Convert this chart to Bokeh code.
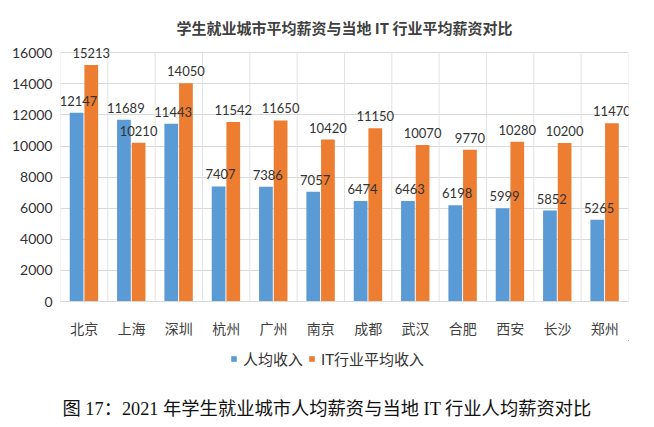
from bokeh.plotting import figure
from bokeh.models import (ColumnDataSource, FixedTicker, Legend, LegendItem,
                          LabelSet, Label, Range1d)
from bokeh.layouts import column
from bokeh.transform import dodge
from bokeh.core.properties import value
from bokeh.embed import file_html
from bokeh.resources import INLINE

cities = ["北京", "上海", "深圳", "杭州", "广州", "南京", "成都", "武汉", "合肥", "西安", "长沙", "郑州"]
avg_income = [12147, 11689, 11443, 7407, 7386, 7057, 6474, 6463, 6198, 5999, 5852, 5265]
it_income = [15213, 10210, 14050, 11542, 11650, 10420, 11150, 10070, 9770, 10280, 10200, 11470]
y_ticks = [0, 2000, 4000, 6000, 8000, 10000, 12000, 14000, 16000]
title_text = "学生就业城市平均薪资与当地 IT 行业平均薪资对比"
caption_text = "图 17：2021 年学生就业城市人均薪资与当地 IT 行业人均薪资对比"
series_names = ["人均收入", "IT行业平均收入"]

BLUE = "#5B9BD5"
ORANGE = "#ED7D31"
LAT = "Lato, Noto Sans CJK SC"
CJK = "Noto Sans CJK SC"

pos = [i + 0.5 for i in range(len(cities))]
bounds = list(range(len(cities) + 1))
src = ColumnDataSource(dict(x=pos, a=avg_income, b=it_income,
                            a_txt=[str(v) for v in avg_income],
                            b_txt=[str(v) for v in it_income]))

W = 654
H1, H2 = 340, 87
FL, FR, FT, FB = 60, 628, 43, 309

p = figure(width=W, height=H1, output_backend="svg", toolbar_location=None,
           x_range=Range1d(0, len(cities)), y_range=Range1d(0, 16600),
           min_border_left=FL, min_border_right=W - FR, min_border_top=FT,
           min_border_bottom=H1 - FB)
p.outline_line_color = None
p.background_fill_color = "white"
p.border_fill_color = "white"

# title
p.title.text = title_text
p.title.align = "center"
p.title.text_font = CJK
p.title.text_font_size = "15px"
p.title.text_font_style = "bold"
p.title.text_color = "#404040"
p.title.standoff = 12

# grids
p.xgrid.visible = False
p.ygrid.ticker = FixedTicker(ticks=y_ticks)
p.ygrid.grid_line_color = "#d9d9d9"
p.segment(x0=bounds, y0=[y_ticks[0]] * len(bounds), x1=bounds,
          y1=[y_ticks[-1]] * len(bounds), line_color="#e3e3e3", line_width=1)

# axes
p.yaxis.ticker = FixedTicker(ticks=y_ticks)
p.yaxis.axis_line_color = None
p.yaxis.major_tick_line_color = None
p.yaxis.minor_tick_line_color = None
p.yaxis.major_label_text_font = LAT
p.yaxis.major_label_text_font_size = "14px"
p.yaxis.major_label_text_color = "#333333"
p.yaxis.major_label_standoff = 2

p.xaxis.ticker = FixedTicker(ticks=pos)
p.xaxis.major_label_overrides = {x: c for x, c in zip(pos, cities)}
p.xaxis.axis_line_color = "#d9d9d9"
p.xaxis.major_tick_line_color = None
p.xaxis.minor_tick_line_color = None
p.xaxis.major_label_text_font = CJK
p.xaxis.major_label_text_font_size = "14px"
p.xaxis.major_label_text_color = "#404040"
p.xaxis.major_label_standoff = 10

# bars
p.vbar(x=dodge("x", -0.16, range=p.x_range), top="a", width=0.29, bottom=0,
       source=src, fill_color=BLUE, line_color=None)
p.vbar(x=dodge("x", 0.15, range=p.x_range), top="b", width=0.29, bottom=0,
       source=src, fill_color=ORANGE, line_color=None)

# data labels
for col, txt, off in (("a", "a_txt", -0.12), ("b", "b_txt", 0.15)):
    ls = LabelSet(x=dodge("x", off, range=p.x_range), y=col, text=txt, source=src,
                  text_align="center", text_baseline="bottom", y_offset=7,
                  text_font=value(LAT), text_font_size=value("13px"),
                  text_color="#333333")
    p.add_layout(ls)

# bottom strip: legend + caption (its frame is aligned with the chart's frame)
q = figure(width=W, height=H2, output_backend="svg", toolbar_location=None,
           x_range=Range1d(-3, -2), y_range=Range1d(-3, -2),
           x_axis_type=None, y_axis_type=None,
           min_border_left=0, min_border_right=0, min_border_top=0, min_border_bottom=0)
q.outline_line_color = None
q.background_fill_color = "white"
q.border_fill_color = "white"
q.xgrid.visible = False
q.ygrid.visible = False
ka = q.vbar(x="x", top="a", width=0.3, source=src, fill_color=BLUE, line_color=None)
kb = q.vbar(x="x", top="b", width=0.3, source=src, fill_color=ORANGE, line_color=None)

legend = Legend(items=[LegendItem(label=series_names[0], renderers=[ka]),
                       LegendItem(label=series_names[1], renderers=[kb])],
                orientation="horizontal", location=(170, 58),
                background_fill_alpha=0, border_line_color=None,
                label_text_font=LAT, label_text_font_size="15px",
                label_text_color="#333333", glyph_width=7, glyph_height=7,
                label_standoff=6, spacing=5, padding=0, margin=0)
q.add_layout(legend, "center")

q.add_layout(Label(x=2, y=19, x_units="screen", y_units="screen", text=caption_text,
                   text_align="left", text_baseline="middle",
                   text_font="Liberation Serif, Noto Sans CJK SC",
                   text_font_size="18.3px", text_color="#111111"))

layout = column(p, q, spacing=0)
open("out.html", "w").write(file_html(layout, INLINE))
